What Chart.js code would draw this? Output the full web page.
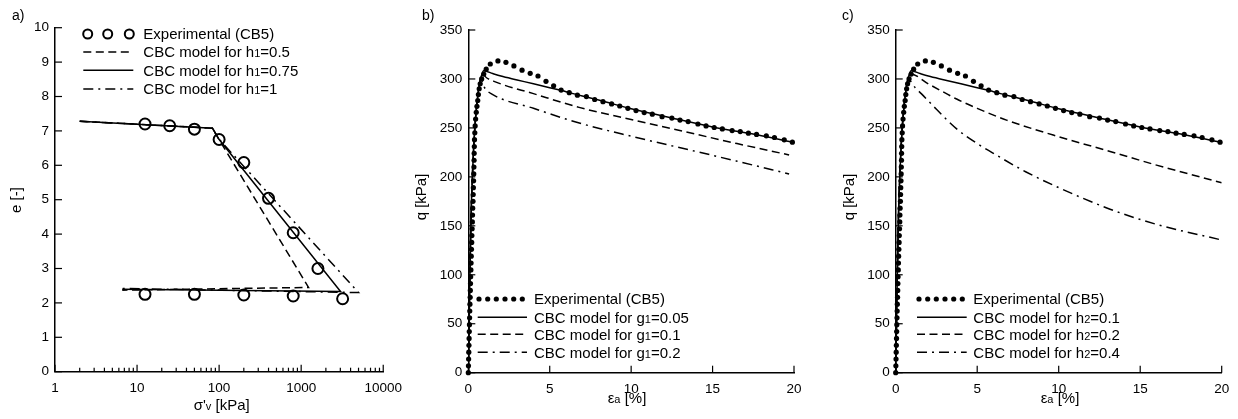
<!DOCTYPE html>
<html>
<head>
<meta charset="utf-8">
<script src="https://cdn.jsdelivr.net/npm/chart.js@4.4.0/dist/chart.umd.min.js"></script>
<style>
    body { margin: 0; background: #fff; }
    #wrap { position: relative; width: 1238px; height: 419px; }
    .panel { position: absolute; top: 0; }
</style>
</head>
<body>
<div id="wrap">
    <div class="panel" style="left:0"><canvas id="chartA" width="410" height="419"></canvas></div>
    <div class="panel" style="left:410px"><canvas id="chartB" width="420" height="419"></canvas></div>
    <div class="panel" style="left:830px"><canvas id="chartC" width="408" height="419"></canvas></div>
</div>
<script>
// ---- a) oedometer: void ratio vs vertical stress ----
const stressDecades = [1, 10, 100, 1000, 10000];
const expStress = [12.5, 25, 50, 100, 200, 400, 800, 1600, 3200, 800, 200, 50, 12.5];
const expVoid = [7.2, 7.15, 7.05, 6.75, 6.08, 5.04, 4.04, 3.0, 2.12, 2.2, 2.23, 2.25, 2.25];
const h1HalfStress = [2, 83, 98, 1230, 6.6];
const h1HalfVoid = [7.28, 7.08, 6.78, 2.45, 2.37];
const h1MidStress = [2, 83, 98, 3020, 6.6];
const h1MidVoid = [7.28, 7.08, 6.78, 2.33, 2.40];
const h1OneStress = [2, 83, 98, 5000, 6.6];
const h1OneVoid = [7.28, 7.08, 6.78, 2.30, 2.42];

// ---- b), c) triaxial: deviator stress vs axial strain ----
const expStrain = [0, 0.01, 0.02, 0.03, 0.04, 0.05, 0.06, 0.07, 0.08, 0.09, 0.1, 0.115, 0.125, 0.135, 0.145, 0.16,
    0.17, 0.18, 0.195, 0.21, 0.22, 0.235, 0.25, 0.26, 0.27, 0.29, 0.3, 0.31, 0.325, 0.335, 0.345, 0.355, 0.36, 0.37,
    0.38, 0.4, 0.42, 0.45, 0.49, 0.53, 0.58, 0.62, 0.67, 0.73, 0.82, 0.95, 1.1, 1.35, 1.82, 2.31, 2.8, 3.3, 3.8,
    4.28, 4.77, 5.24, 5.7, 6.2, 6.7, 7.25, 7.76, 8.27, 8.8, 9.3, 9.8, 10.3, 10.8, 11.3, 11.9, 12.5, 13, 13.5, 14.1,
    14.6, 15.1, 15.6, 16.2, 16.7, 17.2, 17.7, 18.3, 18.8, 19.4, 19.9, 20.5];
const expQ = [0, 7, 14, 21, 28, 35, 42, 49, 56, 63, 70, 77, 84, 91, 98, 105, 112, 119, 126, 133, 140, 147, 154, 161,
    168, 175, 182, 189, 196, 203, 210, 217, 224, 231, 238, 245, 252, 259, 266, 272, 278, 284, 290, 295, 300, 305,
    310, 315.3, 318.4, 317, 313.3, 309, 305.8, 303, 297.6, 293, 288.6, 286, 283.4, 282, 279, 276.8, 274.5, 272.4,
    270, 267.7, 265.7, 264, 261.5, 260, 258, 256.5, 254, 252, 250.4, 249, 247.3, 246.3, 244.6, 243.3, 241.9, 240.2,
    237.8, 235.4, 232.7];

const riseStrain = [0.05, 0.1, 0.17, 0.25, 0.33, 0.4, 0.5, 0.6, 0.7];
const riseQ = [50, 100, 160, 200, 230, 250, 270, 285, 296];
const baseStrain = [0.8, 0.94, 1.5, 2, 3, 4, 5, 6, 7, 8, 10, 12, 15, 18, 20];
const baseQ = [303, 308.5, 305.5, 303, 299, 295, 291, 287, 282.5, 278.5, 269.5, 262, 251, 242, 235];

const g1MidStrain = [0.8, 0.88, 1.1, 1.66, 4, 6.8, 10, 13.6, 16.5, 19.7];
const g1MidQ = [303, 305, 301.5, 297, 285, 271, 258.5, 245, 234, 222.4];
const g1HighStrain = [0.78, 1.0, 1.45, 4, 6.6, 10, 13.6, 16.5, 19.7];
const g1HighQ = [299, 291, 284.5, 270, 256, 241.5, 227.5, 216, 203];

const h2MidStrain = [0.8, 0.92, 2, 3, 3.74, 5, 6.8, 10, 13.15, 16, 20];
const h2MidQ = [303, 305, 295, 286, 279.5, 270, 258, 241, 226, 212, 194];
const h2HighStrain = [0.78, 0.85, 1.2, 1.6, 2.5, 3.74, 5, 6.2, 8, 10, 13.15, 16, 20];
const h2HighQ = [296, 298, 291, 284.5, 269, 249, 234, 222, 205, 189, 167, 151.5, 135.5];

function pts(xs, ys) {
    return xs.map((x, i) => ({ x: x, y: ys[i] }));
}

// model curves share the elastic branch up to the peak
function withRise(xs, ys) {
    return pts([0].concat(riseStrain, xs), [0].concat(riseQ, ys));
}

Chart.defaults.font.family = "'Liberation Sans', Arial, sans-serif";
Chart.defaults.color = "#000";

const DASH = [8, 4.5];
const DASHDOT = [10, 5, 2, 5];

// draws "h_1" style text: the char after _ is small
function drawRich(ctx, str, x, y, size, align) {
    let parts = [];
    let re = /_(.)/g, last = 0, m;
    while ((m = re.exec(str)) !== null) {
        if (m.index > last) parts.push([str.slice(last, m.index), false]);
        parts.push([m[1], true]);
        last = m.index + 2;
    }
    if (last < str.length) parts.push([str.slice(last), false]);

    const family = Chart.defaults.font.family;
    const small = Math.round(size * 0.7);
    let total = 0;
    parts.forEach(p => {
        ctx.font = (p[1] ? small : size) + "px " + family;
        p.push(ctx.measureText(p[0]).width);
        total += p[2];
    });
    let cx = align === "center" ? x - total / 2 : x;
    ctx.textAlign = "left";
    ctx.textBaseline = "alphabetic";
    parts.forEach(p => {
        ctx.font = (p[1] ? small : size) + "px " + family;
        ctx.fillText(p[0], cx, y + size * 0.35);
        cx += p[2];
    });
}

function isDecade(v) {
    const l = Math.log10(v);
    return Math.abs(l - Math.round(l)) < 1e-9;
}

const decor = {
    id: "decor",
    afterDraw(chart, args, opts) {
        const ctx = chart.ctx;
        const xs = chart.scales.x, ys = chart.scales.y;
        ctx.save();
        ctx.strokeStyle = "#000";
        ctx.fillStyle = "#000";
        ctx.lineWidth = 1.2;

        // inward tick marks
        xs.ticks.forEach(t => {
            const px = xs.getPixelForValue(t.value);
            const len = (xs.type === "logarithmic" && !isDecade(t.value)) ? 4 : 7;
            ctx.beginPath();
            ctx.moveTo(px, xs.top);
            ctx.lineTo(px, xs.top - len);
            ctx.stroke();
        });
        ys.ticks.forEach(t => {
            const py = ys.getPixelForValue(t.value);
            ctx.beginPath();
            ctx.moveTo(ys.right, py);
            ctx.lineTo(ys.right + 7, py);
            ctx.stroke();
        });

        // panel letter + axis titles
        ctx.font = "14px " + Chart.defaults.font.family;
        ctx.textAlign = "left";
        ctx.textBaseline = "middle";
        ctx.fillText(opts.letter[0], opts.letter[1], opts.letter[2]);

        drawRich(ctx, opts.xTitle[0], opts.xTitle[1], opts.xTitle[2], 15, "center");
        ctx.save();
        ctx.translate(opts.yTitle[1], opts.yTitle[2]);
        ctx.rotate(-Math.PI / 2);
        drawRich(ctx, opts.yTitle[0], 0, 0, 15, "center");
        ctx.restore();

        // legend
        const lg = opts.legend;
        lg.items.forEach((item, i) => {
            const ds = chart.data.datasets[item.ds];
            const y = lg.rows[i];
            if (item.markers) {
                item.markers.forEach(mx => {
                    ctx.beginPath();
                    ctx.arc(mx, y, item.r, 0, Math.PI * 2);
                    if (item.filled) {
                        ctx.fill();
                    } else {
                        ctx.lineWidth = 2;
                        ctx.stroke();
                    }
                });
            } else {
                ctx.lineWidth = ds.borderWidth;
                ctx.setLineDash(ds.borderDash || []);
                ctx.beginPath();
                ctx.moveTo(lg.x0, y);
                ctx.lineTo(lg.x1, y);
                ctx.stroke();
                ctx.setLineDash([]);
            }
            drawRich(ctx, item.text, lg.tx, y, 15, "left");
        });
        ctx.restore();
    }
};

function fixedScales(left, bottomH) {
    return {
        x: { afterFit: s => { s.height = bottomH; } },
        y: { afterFit: s => { s.width = left; } }
    };
}

function lineSet(data, dash, order, smooth) {
    const ds = {
        data: data,
        showLine: true,
        borderColor: "#000",
        borderWidth: 1.5,
        borderDash: dash,
        pointRadius: 0,
        tension: 0,
        order: order
    };
    if (smooth) ds.cubicInterpolationMode = "monotone";
    return ds;
}

function axisCommon() {
    return {
        grid: { display: false, drawTicks: false },
        border: { display: true, color: "#000", width: 1.5 },
        ticks: { color: "#000", font: { size: 13.5 }, autoSkip: false, maxRotation: 0 }
    };
}

// ---- chart a ----
const fitA = fixedScales(55, 47.3);
const xA = axisCommon();
xA.type = "logarithmic";
xA.min = 1;
xA.max = 10000;
xA.ticks.padding = 8;
xA.ticks.callback = v => (isDecade(v) ? String(v) : "");
xA.afterBuildTicks = scale => {
    const t = [];
    stressDecades.forEach((d, i) => {
        if (i === stressDecades.length - 1) { t.push({ value: d }); return; }
        for (let k = 1; k <= 9; k++) t.push({ value: d * k });
    });
    scale.ticks = t;
};
xA.afterFit = fitA.x.afterFit;
const yA = axisCommon();
yA.min = 0;
yA.max = 10;
yA.ticks.stepSize = 1;
yA.ticks.padding = 6;
yA.afterFit = fitA.y.afterFit;

new Chart(document.getElementById("chartA"), {
    type: "scatter",
    data: {
        datasets: [
            {
                data: pts(expStress, expVoid),
                pointRadius: 5.5,
                pointBorderWidth: 2,
                pointBorderColor: "#000",
                pointBackgroundColor: "rgba(0,0,0,0)",
                order: 0
            },
            lineSet(pts(h1HalfStress, h1HalfVoid), DASH, 3, false),
            lineSet(pts(h1MidStress, h1MidVoid), [], 1, false),
            lineSet(pts(h1OneStress, h1OneVoid), DASHDOT, 2, false)
        ]
    },
    options: {
        responsive: false,
        animation: false,
        layout: { padding: { top: 27.7, right: 21.7, left: 0, bottom: 0 } },
        scales: { x: xA, y: yA },
        plugins: {
            legend: { display: false },
            tooltip: { enabled: false },
            decor: {
                letter: ["a)", 12, 16],
                xTitle: ["σ'_v [kPa]", 221.7, 405],
                yTitle: ["e [-]", 16, 200],
                legend: {
                    x0: 83.3, x1: 133.3, tx: 143.3,
                    rows: [34, 52, 70.3, 89],
                    items: [
                        { ds: 0, text: "Experimental (CB5)", markers: [87.7, 107.7, 129.3], r: 4.5 },
                        { ds: 1, text: "CBC model for h_1=0.5" },
                        { ds: 2, text: "CBC model for h_1=0.75" },
                        { ds: 3, text: "CBC model for h_1=1" }
                    ]
                }
            }
        }
    },
    plugins: [decor]
});

// ---- charts b and c ----
function triaxial(id, left, right, series, labels, lg, letter, xTitleX, yTitleX) {
    const fit = fixedScales(left, 419 - 372.7);
    const x = axisCommon();
    x.type = "linear";
    x.min = 0;
    x.max = 20;
    x.ticks.stepSize = 5;
    x.ticks.padding = 8;
    x.afterFit = fit.x.afterFit;
    const y = axisCommon();
    y.min = 0;
    y.max = 350;
    y.ticks.stepSize = 50;
    y.ticks.padding = 6;
    y.afterFit = fit.y.afterFit;

    new Chart(document.getElementById(id), {
        type: "scatter",
        data: {
            datasets: [
                {
                    data: pts(expStrain, expQ),
                    pointRadius: 2.6,
                    pointBorderWidth: 0,
                    pointBackgroundColor: "#000",
                    clip: false,
                    order: 0
                },
                lineSet(withRise(baseStrain, baseQ), [], 1, true),
                lineSet(withRise(series[0][0], series[0][1]), DASH, 2, true),
                lineSet(withRise(series[1][0], series[1][1]), DASHDOT, 3, true)
            ]
        },
        options: {
            responsive: false,
            animation: false,
            layout: { padding: { top: 30, right: right, left: 0, bottom: 0 } },
            scales: { x: x, y: y },
            plugins: {
                legend: { display: false },
                tooltip: { enabled: false },
                decor: {
                    letter: [letter, 12, 16],
                    xTitle: ["ε_a [%]", xTitleX, 398],
                    yTitle: ["q [kPa]", yTitleX, 197],
                    legend: {
                        x0: lg[0], x1: lg[1], tx: lg[2],
                        rows: [299, 317.3, 334.3, 352.3],
                        items: [
                            { ds: 0, text: "Experimental (CB5)", markers: lg[3], r: 2.6, filled: true },
                            { ds: 1, text: labels[0] },
                            { ds: 2, text: labels[1] },
                            { ds: 3, text: labels[2] }
                        ]
                    }
                }
            }
        },
        plugins: [decor]
    });
}

triaxial("chartB", 58.3, 36,
    [[g1MidStrain, g1MidQ], [g1HighStrain, g1HighQ]],
    ["CBC model for g_1=0.05", "CBC model for g_1=0.1", "CBC model for g_1=0.2"],
    [67.7, 117, 124, [69, 77.7, 86.3, 95, 103.7, 112.3]],
    "b)", 217, 11);

triaxial("chartC", 65.7, 16.3,
    [[h2MidStrain, h2MidQ], [h2HighStrain, h2HighQ]],
    ["CBC model for h_2=0.1", "CBC model for h_2=0.2", "CBC model for h_2=0.4"],
    [87, 136.7, 143.3, [89, 97.7, 106.3, 115, 123.7, 132.3]],
    "c)", 230, 18.3);
</script>
</body>
</html>
